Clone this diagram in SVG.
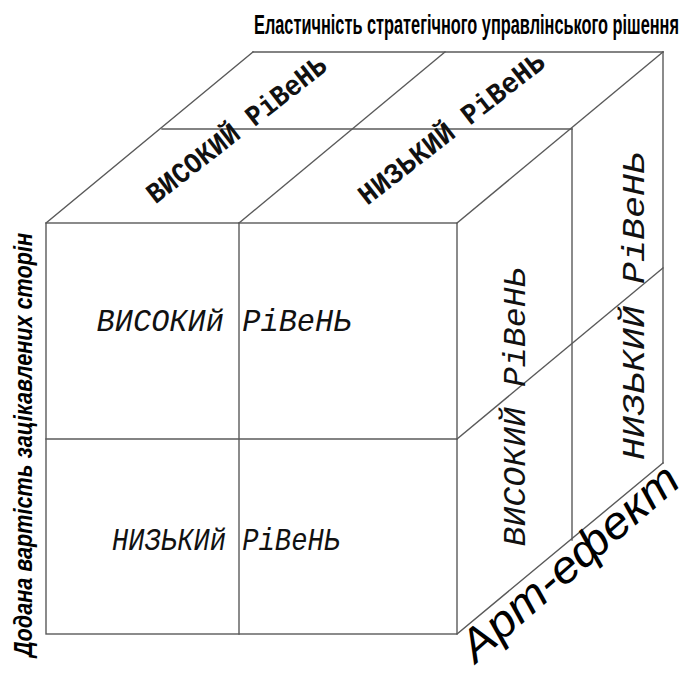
<svg xmlns="http://www.w3.org/2000/svg" width="694" height="677" viewBox="0 0 694 677">
<style>
.edge{stroke:#5a5a5a;stroke-width:1.4;fill:none;stroke-linecap:square}
.cell{font-family:"Liberation Mono","DejaVu Sans Mono",monospace;fill:#111;text-anchor:middle}
.it{font-style:italic}
.axis{font-family:"Liberation Sans","DejaVu Sans",sans-serif;fill:#000}
</style>
<rect width="694" height="677" fill="#fff"/>
<g id="connectors">
  <rect class="edge" x="46" y="223" width="411" height="411"/>
  <line class="edge" x1="239" y1="223" x2="239" y2="634"/>
  <line class="edge" x1="46" y1="439" x2="457" y2="439"/>
  <line class="edge" x1="253" y1="52" x2="663" y2="52"/>
  <line class="edge" x1="162" y1="129" x2="572" y2="129"/>
  <line class="edge" x1="46" y1="223" x2="253" y2="52"/>
  <line class="edge" x1="239" y1="223" x2="445" y2="52"/>
  <line class="edge" x1="457" y1="223" x2="663" y2="52"/>
  <line class="edge" x1="663" y1="52" x2="663" y2="463"/>
  <line class="edge" x1="572" y1="129" x2="572" y2="540"/>
  <line class="edge" x1="457" y1="439" x2="663" y2="268"/>
  <line class="edge" x1="457" y1="634" x2="663" y2="463"/>
</g>
<g id="title-top">
  <text class="axis" transform="translate(254,34) scale(1,1.75)" x="0" y="0" font-size="16" font-weight="bold" textLength="425" lengthAdjust="spacingAndGlyphs">Еластичність стратегічного управлінського рішення</text>
</g>
<g id="title-left">
  <text class="axis" transform="translate(32,445) rotate(-90)" x="0" y="0" text-anchor="middle" font-size="26" font-style="italic" font-weight="bold" textLength="424" lengthAdjust="spacingAndGlyphs">Додана вартість зацікавлених сторін</text>
</g>
<g id="title-right">
  <text class="axis" transform="translate(476,664) rotate(-41)" x="0" y="0" font-size="45" font-style="italic" textLength="274" lengthAdjust="spacingAndGlyphs">Арт-ефект</text>
</g>
<g id="front-high">
  <text class="cell it" x="224" y="331" font-size="32" textLength="255" lengthAdjust="spacingAndGlyphs">ВИСОКИй РіВеНЬ</text>
</g>
<g id="front-low">
  <text class="cell it" x="226" y="550" font-size="32" textLength="228" lengthAdjust="spacingAndGlyphs">НИЗЬКИй РіВеНЬ</text>
</g>
<g id="top-high">
  <text class="cell" transform="translate(236,129) rotate(-38)" x="0" y="10" font-size="29" font-weight="bold" textLength="220" lengthAdjust="spacingAndGlyphs">ВИСОКИЙ РіВеНЬ</text>
</g>
<g id="top-low">
  <text class="cell" transform="translate(451,128) rotate(-38)" x="0" y="10" font-size="29" font-weight="bold" textLength="228" lengthAdjust="spacingAndGlyphs">НИЗЬКИЙ РіВеНЬ</text>
</g>
<g id="right-high">
  <text class="cell it" transform="translate(525,407) rotate(-90)" x="0" y="0" font-size="31" textLength="279" lengthAdjust="spacingAndGlyphs">ВИСОКИЙ РіВеНЬ</text>
</g>
<g id="right-low">
  <text class="cell it" transform="translate(644,306) rotate(-90)" x="0" y="0" font-size="31" textLength="308" lengthAdjust="spacingAndGlyphs">НИЗЬКИЙ РіВеНЬ</text>
</g>
</svg>
